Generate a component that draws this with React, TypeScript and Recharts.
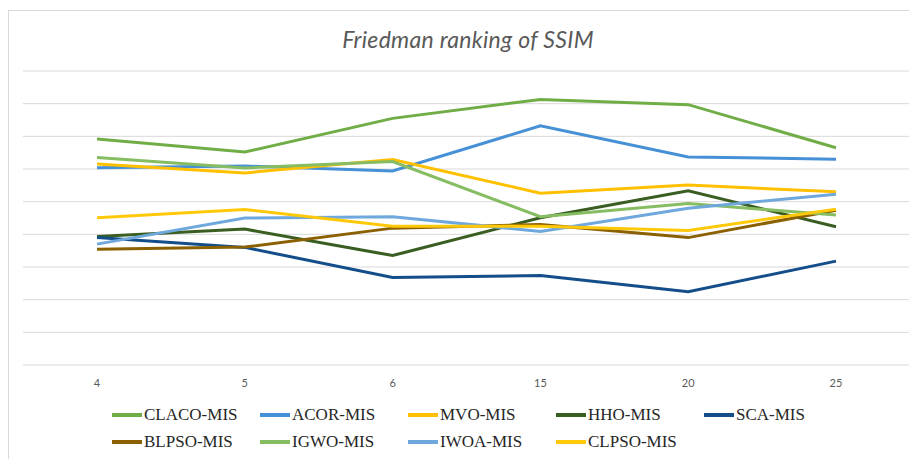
import React from "react";
import { CartesianGrid, Line, LineChart, XAxis, YAxis } from "recharts";

const categories = ["4", "5", "6", "15", "20", "25"];

const seriesNames = [
  "CLACO-MIS",
  "ACOR-MIS",
  "MVO-MIS",
  "HHO-MIS",
  "SCA-MIS",
  "BLPSO-MIS",
  "IGWO-MIS",
  "IWOA-MIS",
  "CLPSO-MIS",
];

const seriesColors = [
  "#70ad47",
  "#4590d6",
  "#ffc000",
  "#3a5e22",
  "#134e8a",
  "#8b6000",
  "#86bc62",
  "#6fa8dc",
  "#ffc90a",
];

// mean Friedman rank per dimension
const claco = [6.92, 6.52, 7.55, 8.13, 7.97, 6.65];
const acor = [6.04, 6.09, 5.94, 7.32, 6.37, 6.3];
const mvo = [6.15, 5.88, 6.29, 5.26, 5.51, 5.3];
const hho = [3.93, 4.16, 3.35, 4.51, 5.33, 4.23];
const sca = [3.9, 3.6, 2.68, 2.74, 2.24, 3.18];
const blpso = [3.54, 3.61, 4.19, 4.3, 3.9, 4.74];
const igwo = [6.35, 6.03, 6.23, 4.54, 4.94, 4.59];
const iwoa = [3.7, 4.5, 4.54, 4.09, 4.8, 5.23];
const clpso = [4.51, 4.76, 4.25, 4.25, 4.12, 4.77];

const seriesValues = [claco, acor, mvo, hho, sca, blpso, igwo, iwoa, clpso];

const yTicks = [0, 1, 2, 3, 4, 5, 6, 7, 8, 9];

const data = categories.map((cat, i) => {
  const row: Record<string, string | number> = { cat };
  seriesNames.forEach((name, s) => {
    row[name] = seriesValues[s][i];
  });
  return row;
});

export default function App() {
  return (
    <div style={{ position: "relative", width: 909, height: 451 }}>
      <div
        style={{
          position: "absolute",
          left: 0,
          top: 2,
          width: 940,
          height: 480,
          borderTop: "1px solid #d9d9d9",
          borderLeft: "1px solid #d9d9d9",
        }}
      />
      <div
        style={{
          position: "absolute",
          left: 0,
          top: 17,
          width: 920,
          textAlign: "center",
          fontFamily: "Lato, sans-serif",
          fontStyle: "italic",
          fontSize: 23,
          letterSpacing: 0.3,
          color: "#595959",
        }}
      >
        Friedman ranking of SSIM
      </div>
      <LineChart width={909} height={451} data={data} margin={{ top: 63, right: 7, bottom: 64, left: 15 }}>
        <CartesianGrid horizontal vertical={false} stroke="#d9d9d9" strokeWidth={1} />
        <XAxis
          dataKey="cat"
          axisLine={false}
          tickLine={false}
          tickMargin={8}
          padding={{ left: 74, right: 74 }}
          tick={{ fill: "#595959", fontSize: 11, fontFamily: "Lato, sans-serif" }}
        />
        <YAxis hide domain={[0, 9]} ticks={yTicks} />
        {seriesNames.map((name, s) => (
          <Line
            key={name}
            type="linear"
            dataKey={name}
            stroke={seriesColors[s]}
            strokeWidth={3}
            dot={false}
            isAnimationActive={false}
          />
        ))}
      </LineChart>
      <div
        style={{
          position: "absolute",
          left: 104,
          top: 396,
          display: "grid",
          gridTemplateColumns: "repeat(5, 148px)",
          rowGap: 5,
          fontFamily: "'Liberation Serif', serif",
          fontSize: 17,
          color: "#262626",
        }}
      >
        {seriesNames.map((name, s) => (
          <div key={name} style={{ display: "flex", alignItems: "center", height: 22 }}>
            <span style={{ display: "inline-block", width: 30, height: 4, background: seriesColors[s], marginRight: 2 }} />
            <span>{name}</span>
          </div>
        ))}
      </div>
    </div>
  );
}
